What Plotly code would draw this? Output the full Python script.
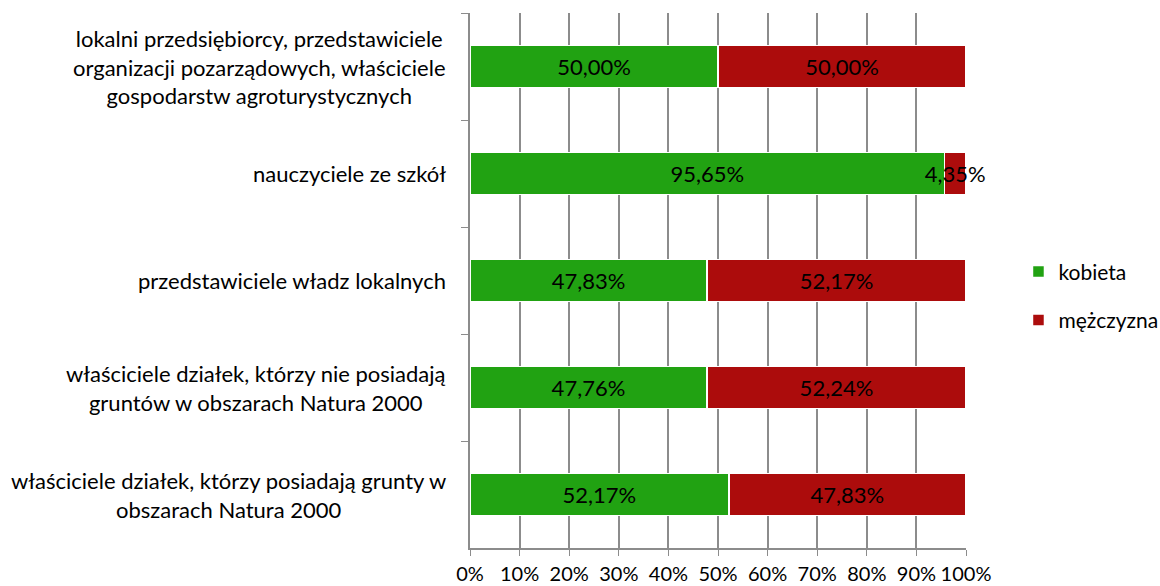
import plotly.graph_objects as go

categories = [
    "lokalni przedsiębiorcy, przedstawiciele<br>organizacji pozarządowych, właściciele<br>gospodarstw agroturystycznych",
    "nauczyciele ze szkół",
    "przedstawiciele władz lokalnych",
    "właściciele działek, którzy nie posiadają<br>gruntów w obszarach Natura 2000",
    "właściciele działek, którzy posiadają grunty w<br>obszarach Natura 2000",
]
kobieta = [50.00, 95.65, 47.83, 47.76, 52.17]
mezczyzna = [50.00, 4.35, 52.17, 52.24, 47.83]
series_names = ["kobieta", "mężczyzna"]
colors = ["#21A212", "#AC0C0C"]
x_ticks = list(range(0, 101, 10))
x_tick_labels = [f"{v}%" for v in x_ticks]

FONT = "Lato"
FS = 22
fig = go.Figure()
for name, vals, col in zip(series_names, [kobieta, mezczyzna], colors):
    fig.add_trace(go.Bar(
        y=categories, x=vals, name=name, orientation="h",
        marker=dict(color=col, line=dict(color="white", width=1.5)),
        text=vals, texttemplate="%{x:.2f}%", textposition="inside",
        insidetextanchor="middle", textangle=0, constraintext="none",
        textfont=dict(color="black", size=FS, family=FONT),
        legendgroup=name, cliponaxis=False,
    ))

for c in categories:
    fig.add_annotation(xref="paper", yref="y", x=0, y=c, text=c,
                       xanchor="right", yanchor="middle", align="center",
                       xshift=-22, showarrow=False,
                       font=dict(size=FS, family=FONT, color="black"))

fig.update_layout(
    width=1160, height=586, barmode="stack", bargap=0.61,
    separators=",.",
    paper_bgcolor="white", plot_bgcolor="white",
    margin=dict(l=470, r=194, t=13, b=38, autoexpand=False),
    font=dict(family=FONT, size=FS, color="black"),
    legend=dict(xref="container", yref="container", x=0.878, y=0.495,
                xanchor="left", yanchor="middle",
                font=dict(size=21, family=FONT), tracegroupgap=18,
                itemwidth=30),
    showlegend=True,
)
fig.update_xaxes(range=[0, 100], tickvals=x_ticks, ticktext=x_tick_labels,
                 tickangle=0,
                 showgrid=True, gridcolor="#8C8C8C", gridwidth=1.5,
                 showline=True, linecolor="#8C8C8C", linewidth=1.5,
                 ticks="outside", ticklen=6, tickcolor="#8C8C8C",
                 ticklabelstandoff=1, zeroline=False, automargin=False,
                 tickfont=dict(size=20, family=FONT))
fig.update_yaxes(autorange="reversed", showticklabels=False,
                 showline=True, linecolor="#8C8C8C", linewidth=1.5,
                 ticks="outside", ticklen=7, tickcolor="#8C8C8C",
                 tickson="boundaries", showgrid=False, automargin=False)

fig.write_html("out.html", config={"displayModeBar": False},
               post_script="document.body.style.margin='0px';")
